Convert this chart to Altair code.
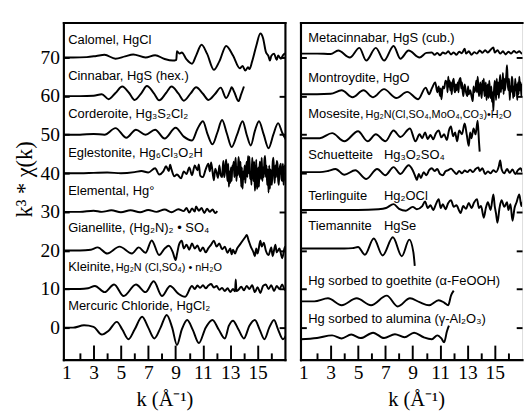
import altair as alt
import pandas as pd

# ---------------- data (k, deviation from the curve's offset) ----------------
CALOMEL = [(0.8,0),(1.5,0),(2.5,0.1),(3.2,0.4),(3.8,0.7),(4.6,-0.3),(5.3,0.3),(5.9,0.8),(6.8,0),(7.5,0.6),
           (8.2,-0.4),(8.8,-0.8),(9.05,-0.6),(9.1,1.6),(9.3,1.0),(9.45,1.3),(9.8,-0.5),(10.2,-1.6),(10.5,0.5),
           (10.9,3.3),(11.3,1.0),(11.8,-3.2),(12.2,-1.0),(12.7,3.0),(13.2,0.5),(13.7,-2.8),(13.9,-2.2),(14.1,-3.4),
           (14.3,-2.5),(14.4,-3.0),(14.6,-1.0),(14.9,3.0),(15.2,6.2),(15.4,5.0),(15.6,1.5),(15.8,0.3),(15.9,-0.8),
           (16.0,0.4),(16.2,1.0),(16.4,-0.6),(16.5,0.5),(16.7,-0.3),(16.9,0.8),(17.2,1.2)]
CINNABAR = [(0.8,0),(2.0,0),(3.0,0.1),(3.6,0.5),(4.1,-0.8),(4.6,0.8),(5.1,2.5),(5.6,0.8),(6.0,-1.0),(6.5,0.8),
            (6.9,2.6),(7.4,0.8),(7.8,-1.1),(8.3,0.8),(8.7,2.5),(9.2,0.7),(9.6,-1.2),(10.1,0.7),(10.5,2.3),(11.0,0.6),
            (11.4,-1.0),(11.9,0.6),(12.3,2.2),(12.7,-0.5),(13.0,1.5),(13.1,2.3),(13.3,1.0),(13.6,-1.3),(13.8,0.5),(14.0,2.5)]
CORDEROITE = [(0.8,0),(2.0,0),(3.0,0.2),(3.8,0.0),(4.6,1.7),(5.4,-0.8),(6.1,1.3),(6.8,0),(7.5,1.3),(8.2,-1.0),
              (9.0,1.8),(9.6,-0.5),(10.2,-1.5),(10.6,1.5),(11.0,3.5),(11.35,0),(11.7,-2.5),(12.05,0.5),(12.4,3.8),
              (12.75,0.3),(13.1,-3.2),(13.5,0),(13.9,3.5),(14.2,0),(14.5,-2.8),(14.8,1.0),(15.1,3.5),(15.45,0),
              (15.8,-3.5),(16.15,0),(16.5,3.0),(16.8,0.5),(17.2,-2.0)]
EGLESTONITE = [(0.8,0),(2,0),(3,0.1),(4,0.2),(5,0),(6,0.3),(6.5,0.6),(7.0,0.2),(7.5,1.3),(7.8,-0.3),(8.1,0.5),
               (8.3,1.8),(8.5,0.6),(8.6,2.2),(8.7,1.0),(8.9,-0.8),(9.1,-0.3),(9.4,-1.3),(9.6,0.5),(9.8,-0.2),
               (10.0,1.5),(10.2,-0.5),(10.4,2.0),(10.6,0.8),(10.7,2.3),(10.8,-0.6),(11.0,-1.0),(11.2,1.0),(11.4,2.5),
               (11.5,0.5),(11.6,2.8),(11.8,-1.8),(11.9,1.2),(12.0,0.2),(12.1,-1.2),(12.2,2.0),(12.3,-0.5),(12.4,-1.0),
               (12.45,1.5),(12.5,3.2),(12.55,-1.0),(12.6,0.0),(12.65,2.0),(12.7,3.5),(12.75,0.5),(12.8,-2.0),
               (12.85,2.5),(12.9,-3.5),(12.95,0.5),(13.0,-2.5),(13.05,1.5),(13.1,-2.0),(13.15,2.0),(13.2,1.0),
               (13.25,3.0),(13.3,-1.0),(13.35,2.0),(13.4,4.0),(13.45,-2.0),(13.5,1.5),(13.55,-0.5),(13.6,4.2),
               (13.65,2.5),(13.7,-1.0),(13.75,3.0),(13.8,-3.5),(13.85,1.5),(13.9,-4.0),(13.95,0.5),(14.0,-1.5),
               (14.05,2.0),(14.1,-2.5),(14.15,1.0),(14.2,3.0),(14.25,-1.0),(14.3,4.5),(14.35,0.0),(14.4,4.3),
               (14.45,-1.5),(14.5,0.5),(14.55,-3.0),(14.6,4.0),(14.65,2.0),(14.7,-2.0),(14.75,3.0),(14.8,-4.5),
               (14.85,-2.0),(14.9,3.5),(14.95,-4.0),(15.0,-3.0),(15.05,1.5),(15.1,-3.5),(15.15,3.0),(15.2,2.0),
               (15.25,-1.5),(15.3,4.0),(15.35,-2.0),(15.4,1.5),(15.45,-1.0),(15.5,3.5),(15.55,4.5),(15.6,-1.0),
               (15.65,2.0),(15.7,-3.0),(15.75,1.0),(15.8,-5.0),(15.85,2.0),(15.9,-4.0),(15.95,1.0),(16.0,-2.0),
               (16.05,-3.0),(16.1,2.5),(16.15,4.0),(16.2,0.5),(16.25,-2.5),(16.3,2.0),(16.35,-1.0),(16.4,3.2),
               (16.45,2.5),(16.5,-1.5),(16.55,-3.0),(16.6,1.0),(16.7,2.5),(16.75,-1.5),(16.8,-2.0),(16.85,2.5),
               (16.9,-3.0),(16.95,1.0),(17.0,2.0),(17.05,-2.0),(17.1,1.5),(17.2,0.5)]
ELEMENTAL = [(0.8,0),(2,0),(3,0.3),(3.6,0),(4.3,0.4),(5,-0.1),(5.7,0.4),(6.4,-0.1),(7.0,0.5),(7.6,0),(8.2,0.6),
             (8.7,-0.1),(9.2,0.7),(9.6,0.2),(9.8,1.0),(10.0,-0.2),(10.2,0.9),(10.4,0.1),(10.5,1.4),(10.7,0.3),
             (10.9,1.0),(11.1,-0.3),(11.3,0.8),(11.5,0.0),(11.7,0.6),(11.9,-0.3),(12.05,0.2)]
GIANELLITE = [(0.8,0),(2,0),(2.8,0.2),(3.3,0.8),(4.0,-0.8),(4.9,1.0),(5.8,-0.8),(6.3,0.8),(6.8,-0.6),(7.25,2.6),
              (7.8,-1.2),(8.2,0.5),(8.5,1.2),(8.8,-0.5),(9.0,-2.5),(9.1,-1.0),(9.25,1.5),(9.45,2.5),(9.6,0.5),
              (9.8,1.5),(10.0,0.2),(10.2,1.8),(10.4,0.5),(10.6,1.3),(10.8,-0.2),(11.0,0.8),(11.2,-0.5),(11.4,0.6),
              (11.6,1.5),(11.8,2.5),(12.0,1.0),(12.2,1.8),(12.4,0.3),(12.6,1.0),(12.8,-0.6),(13.0,0.5),(13.1,-1.0),
              (13.2,0.2),(13.35,-0.8),(13.5,0.5),(13.7,1.5),(13.9,2.5),(14.1,3.5),(14.2,4.0),(14.35,2.5),(14.5,1.0),
              (14.7,-0.5),(14.8,-1.5),(14.9,0.5),(15.0,-0.8),(15.2,2.5),(15.3,1.0),(15.45,2.0),(15.6,0.0),(15.8,-1.2),
              (16.0,0.8),(16.1,-1.5),(16.3,1.5),(16.4,-0.5),(16.6,0.5),(16.8,-2.0),(17.0,1.0),(17.2,-0.5)]
KLEINITE = [(0.8,0),(2,0),(2.6,0.2),(3.1,0.8),(3.8,-0.8),(4.5,1.2),(5.2,-1.8),(6.1,1.2),(6.8,-0.8),(7.4,2.0),
            (8.0,-1.8),(8.6,0.8),(9.2,-1.2),(9.7,-2.0),(10.2,0.8),(10.4,0.0),(10.6,0.9),(10.8,0.3),(11.0,1.0),
            (11.2,0.2),(11.4,0.9),(11.6,1.3),(11.8,0.4),(12.0,0.8),(12.2,-0.2),(12.4,0.3),(12.6,-0.5),(12.8,0.2),
            (13.0,-0.8),(13.2,0.0),(13.35,-0.6),(13.4,2.5),(13.45,-0.5),(13.6,-0.2),(13.8,0.6),(14.0,-0.3),(14.2,0.8),
            (14.4,0.0),(14.6,1.0),(14.8,-0.8),(15.0,0.5),(15.2,-1.0),(15.4,0.8),(15.6,1.2),(15.8,0.0),(16.0,1.0),
            (16.2,-0.5),(16.4,0.8),(16.6,0.0),(16.8,1.2),(17.0,-0.3),(17.2,0.5)]
MERCURIC = [(0.8,0),(1.5,0),(2.3,0.6),(3.0,0.2),(3.6,-1.8),(4.1,-0.8),(4.7,1.5),(5.1,-0.5),(5.55,-3.0),(6.0,-0.5),
            (6.55,2.8),(7.0,0.0),(7.45,-2.8),(7.9,0.0),(8.35,3.3),(8.75,0.0),(9.1,-4.5),(9.45,-0.5),(9.85,2.0),
            (10.25,-0.5),(10.7,-4.0),(11.2,0.0),(11.7,2.0),(12.15,-0.5),(12.6,-2.8),(12.9,0.5),(13.2,1.8),(13.6,-0.5),
            (14.0,-2.8),(14.4,0.5),(14.8,2.0),(15.15,-0.5),(15.5,-3.0),(15.85,0.0),(16.2,2.0),(16.5,-0.5),(16.85,-3.0),
            (17.2,-1.0)]

METACINNABAR = [(0.8,0),(2,0),(3.0,-0.1),(3.55,0.8),(4.4,-1.0),(5.1,1.5),(5.6,-1.8),(6.3,1.5),(6.9,-1.8),(7.6,2.0),
                (8.1,-1.3),(8.7,0.8),(9.5,-1.0),(10.0,0.2),(10.4,0.3),(10.6,-0.3),(10.8,0.2),(11.0,-0.4),(11.2,0.3),
                (11.4,0.0),(11.6,0.6),(11.8,-0.2),(12.0,0.3),(12.2,-0.3),(12.4,0.5),(12.6,0.1),(12.8,1.3),(12.9,0.0),
                (13.1,0.6),(13.3,-0.3),(13.5,0.4),(13.7,0.0),(13.9,0.8),(14.1,0.2),(14.3,0.9),(14.5,0.3),(14.7,1.0),
                (14.9,1.6),(15.0,0.3),(15.2,0.9),(15.4,0.0),(15.6,0.6),(15.8,-0.2),(16.0,0.5),(16.2,0.0),(16.4,0.7),
                (16.6,0.2),(16.8,0.6),(17.0,0.0),(17.2,0.4)]
MONTROYDITE = [(0.8,0),(2,0),(3.0,0.1),(3.8,1.0),(4.6,-0.8),(5.4,1.0),(6.1,-0.8),(6.9,1.3),(7.8,-1.0),(8.6,0.6),
               (9.4,-1.3),(9.95,1.7),(10.2,0.0),(10.4,1.5),(10.65,3.0),(10.8,0.5),(10.9,2.0),(11.0,-0.5),(11.05,1.5),
               (11.1,-1.3),(11.2,2.0),(11.3,1.5),(11.4,3.5),(11.5,3.0),(11.55,0.5),(11.6,4.5),(11.65,2.0),(11.7,3.5),
               (11.75,1.0),(11.8,3.0),(11.85,0.0),(11.9,2.5),(12.0,4.0),(12.05,1.0),(12.1,0.5),(12.15,2.5),(12.2,1.0),
               (12.3,3.0),(12.35,0.5),(12.4,3.5),(12.5,4.2),(12.55,1.5),(12.6,3.0),(12.65,1.0),(12.7,-0.5),(12.8,2.5),
               (12.9,0.5),(13.0,-0.5),(13.05,2.0),(13.1,0.0),(13.2,1.0),(13.3,-0.5),(13.4,-1.8),(13.45,2.0),(13.5,0.5),
               (13.6,1.5),(13.65,3.5),(13.7,0.5),(13.75,4.5),(13.8,2.0),(13.85,-0.5),(13.9,1.5),(13.95,3.0),(14.0,0.5),
               (14.05,-1.0),(14.1,3.5),(14.15,1.0),(14.2,4.0),(14.25,-0.5),(14.3,0.5),(14.35,3.0),(14.4,-1.5),
               (14.45,1.0),(14.5,2.5),(14.55,-1.0),(14.6,3.5),(14.65,0.5),(14.7,-1.0),(14.75,2.0),(14.8,-2.0),
               (14.85,0.5),(14.9,-4.3),(14.95,1.0),(15.0,3.5),(15.05,2.0),(15.1,-1.5),(15.15,4.0),(15.2,0.0),
               (15.25,3.0),(15.3,-1.0),(15.35,2.5),(15.4,5.0),(15.45,0.5),(15.5,3.5),(15.55,1.5),(15.6,5.5),
               (15.65,0.0),(15.7,4.0),(15.75,1.0),(15.8,3.0),(15.85,5.0),(15.9,7.5),(15.95,3.0),(16.0,1.0),(16.05,4.0),
               (16.1,-1.5),(16.15,2.0),(16.2,0.5),(16.25,4.5),(16.3,3.5),(16.35,-1.0),(16.4,2.0),(16.45,-0.5),
               (16.5,4.0),(16.55,1.0),(16.6,2.5),(16.65,-1.5),(16.7,3.0),(16.75,0.0),(16.8,4.5),(16.85,1.0),(16.9,3.0),
               (16.95,-0.5),(17.0,2.5),(17.05,-1.0),(17.1,3.0),(17.2,1.5)]
MOSESITE = [(0.8,0),(2.2,0),(3.1,1.3),(4.0,-0.8),(5.0,1.8),(5.7,-0.8),(6.3,1.0),(7.0,-0.8),(7.6,2.0),(8.1,0.3),
            (8.8,2.5),(9.2,-0.8),(9.5,1.0),(9.7,0.0),(9.9,1.5),(10.1,-0.2),(10.3,0.8),(10.5,-0.3),(10.7,1.3),
            (10.9,2.0),(11.1,0.2),(11.3,1.0),(11.5,-0.5),(11.65,2.0),(11.8,3.0),(11.95,0.5),(12.1,1.5),(12.25,-0.8),
            (12.4,2.0),(12.6,1.0),(12.8,3.8),(12.95,1.0),(13.1,-2.0),(13.2,1.5),(13.3,0.0),(13.45,2.5),(13.6,1.0),
            (13.75,4.5),(13.85,-1.0),(13.9,-3.5)]
SCHUETTEITE = [(0.8,0),(2.2,0),(2.8,0.3),(3.35,0.8),(4.0,-0.7),(4.8,0.5),(5.6,-1.8),(6.4,0.8),(7.0,-0.8),(7.6,1.3),
               (8.1,-0.5),(8.7,1.8),(9.0,0.5),(9.2,-1.2),(9.3,-2.0),(9.45,-0.5),(9.6,-1.5),(9.8,0.0),(10.0,-0.8),
               (10.2,0.5),(10.4,1.0),(10.6,0.3),(10.8,0.8),(11.0,-0.5),(11.2,-0.8),(11.4,0.2),(11.6,0.5),(11.8,0.9),
               (12.0,0.2),(12.2,-0.5),(12.4,0.3),(12.6,-0.3),(12.8,0.4),(13.0,0.0),(13.2,0.6),(13.4,0.0),(13.6,0.8),
               (13.8,1.2),(13.9,0.3),(14.1,1.0),(14.3,-0.5),(14.5,0.2),(14.7,-0.3),(14.9,0.5),(15.1,0.0),(15.3,1.5),
               (15.4,3.0),(15.5,0.8),(15.7,-0.3),(15.9,0.8),(16.1,-0.2),(16.3,0.7),(16.5,-0.5),(16.7,0.5),(16.9,1.0),
               (17.05,0.0),(17.2,0.8)]
TERLINGUITE = [(0.8,0),(3,0),(5,0),(6.5,0.2),(7.05,0.5),(7.6,1.5),(8.0,0.3),(8.5,-0.2),(9.0,0.8),(9.3,0.2),(9.7,1.0),
               (9.9,2.2),(10.1,0.5),(10.3,1.2),(10.5,0.0),(10.7,1.5),(10.9,2.8),(11.05,0.5),(11.2,1.5),(11.4,0.2),
               (11.6,1.8),(11.8,2.5),(12.0,0.8),(12.2,1.2),(12.4,-0.2),(12.5,-0.8),(12.7,1.0),(12.9,0.3),(13.1,1.8),
               (13.3,0.5),(13.5,2.0),(13.7,2.8),(13.85,0.5),(14.0,1.0),(14.2,-2.0),(14.35,0.5),(14.5,2.0),(14.7,0.0),
               (14.9,4.0),(15.0,1.0),(15.1,-1.0),(15.2,-3.3),(15.35,0.5),(15.5,2.5),(15.7,0.8),(15.9,2.0),(16.0,0.0),
               (16.15,1.5),(16.3,-2.8),(16.45,0.5),(16.6,2.0),(16.8,4.0),(16.95,1.0),(17.1,2.5),(17.2,0.5)]
TIEMANNITE = [(0.8,0),(2,0),(3,0),(4,0),(4.6,0.1),(5.0,0.4),(5.5,-1.6),(6.15,2.6),(6.8,-1.8),(7.55,2.9),(8.2,-2.0),
              (8.75,2.3),(9.05,-1.0),(9.15,-4.5)]
GOETHITE = [(0.8,0),(1.8,0),(2.8,0.8),(3.8,-1.0),(4.9,0.8),(5.95,-1.0),(7.1,1.5),(7.9,-1.3),(8.8,0.8),(9.5,-0.2),
            (10.2,-1.0),(10.9,0.3),(11.3,-0.3),(11.6,-1.0),(11.8,1.5),(12.0,2.8)]
ALUMINA = [(0.8,0),(2.0,0.3),(3.1,1.0),(3.8,0.2),(4.5,1.2),(5.2,0.3),(6.1,1.7),(6.9,0.3),(7.7,1.3),(8.4,0.5),
           (9.1,1.7),(9.8,0.5),(10.4,0.0),(10.8,1.0),(11.1,0.2),(11.3,-0.8),(11.5,2.0),(11.65,3.5)]

LEFT_CURVES = [CALOMEL, CINNABAR, CORDEROITE, EGLESTONITE, ELEMENTAL, GIANELLITE, KLEINITE, MERCURIC]
LEFT_OFFSETS = [70, 60, 50, 40, 30, 20, 10, 0]
LEFT_LABELS = ["Calomel, HgCl", "Cinnabar, HgS (hex.)", "Corderoite, Hg₃S₂Cl₂", "Eglestonite, Hg₆Cl₃O₂H",
               "Elemental, Hg°", "Gianellite, (Hg₂N)₂ • SO₄", "Kleinite,", "Mercuric Chloride, HgCl₂"]
LEFT_LABEL_Y = [73.5, 64.2, 54.2, 44.1, 34.3, 24.9, 14.6, 4.5]
LEFT_EXTRA = ["Hg₂N (Cl,SO₄) • nH₂O"]
LEFT_EXTRA_K = [4.62]
LEFT_EXTRA_Y = [14.6]
LEFT_EXTRA_SIZE = [11.2]

RIGHT_CURVES = [METACINNABAR, MONTROYDITE, MOSESITE, SCHUETTEITE, TERLINGUITE, TIEMANNITE, GOETHITE, ALUMINA]
RIGHT_OFFSETS = [71.0, 60.5, 49.1, 40.3, 30.5, 20.5, 6.8, -3.0]
RIGHT_LABELS = ["Metacinnabar, HgS (cub.)", "Montroydite, HgO", "Mosesite,", "Schuetteite", "Terlinguite",
                "Tiemannite", "Hg sorbed to goethite (α-FeOOH)", "Hg sorbed to alumina (γ-Al₂O₃)"]
RIGHT_LABEL_Y = [74.0, 63.7, 54.2, 43.6, 33.0, 25.2, 11.0, 1.2]
RIGHT_EXTRA = ["Hg₂N(Cl,SO₄,MoO₄,CO₃)•H₂O", "Hg₃O₂SO₄", "Hg₂OCl", "HgSe"]
RIGHT_EXTRA_K = [5.55, 6.9, 6.9, 6.9]
RIGHT_EXTRA_Y = [54.2, 43.6, 33.0, 25.2]
RIGHT_EXTRA_SIZE = [11.2, 13.3, 13.3, 13.3]

X_LABELS = [1, 3, 5, 7, 9, 11, 13, 15]
X_MAJOR = [3, 5, 7, 9, 11, 13, 15]
X_MINOR = [2, 4, 6, 8, 10, 12, 14, 16]
Y_TICKS = [0, 10, 20, 30, 40, 50, 60, 70]

# ---------------- layout constants ----------------
W, H = 228, 347
XDOM = [0.79, 17.0]
YDOM = [-8.31, 79.07]
SERIF = "Liberation Serif"
SANS = "Liberation Sans"
LABEL_SIZE = 13.3
BORDER = dict(domainColor="black", domainWidth=2.2, domainCap="square")


def curve_frame(curves, offsets):
    rows = []
    for ci, (pts, off) in enumerate(zip(curves, offsets)):
        for i, (k, d) in enumerate(pts):
            rows.append({"c": ci, "i": i, "k": k, "v": off + d})
    return pd.DataFrame(rows)


def panel(curves, offsets, labels, label_y, label_k, extra, extra_k, extra_y, extra_size, left, title_x):
    xs = alt.Scale(domain=XDOM, nice=False, zero=False)
    ys = alt.Scale(domain=YDOM, nice=False, zero=False)

    bottom_axis = alt.Axis(values=X_LABELS, ticks=False, domain=True, grid=False, labelFont=SERIF,
                           labelFontSize=20, labelColor="black", labelPadding=3, title="k (Å⁻¹)",
                           titleFont=SERIF, titleFontSize=21, titleFontWeight="normal", titleColor="black",
                           titlePadding=7, titleX=title_x, labelFlush=False, **BORDER)
    if left:
        y_axis = alt.Axis(values=Y_TICKS, ticks=False, domain=False, grid=False, labelFont=SERIF,
                          labelFontSize=20, labelColor="black", labelPadding=4, title="k³ * χ(k)",
                          titleFont=SERIF, titleFontSize=23, titleFontWeight="normal", titleColor="black",
                          titlePadding=4, titleY=161, labelFlush=False)
    else:
        y_axis = None

    lines = alt.Chart(curve_frame(curves, offsets)).mark_line(
        color="black", strokeWidth=2.0, interpolate="monotone", clip=True
    ).encode(
        x=alt.X("k:Q", scale=xs, axis=bottom_axis),
        y=alt.Y("v:Q", scale=ys, axis=y_axis),
        detail="c:N",
        order="i:Q",
    )

    dummy = pd.DataFrame({"k": [X_MAJOR[0]], "v": [Y_TICKS[0]]})
    # major bottom ticks (pointing inward) + left border with inward ticks
    tick_a = alt.Chart(dummy).mark_point(opacity=0).encode(
        x=alt.X("k:Q", scale=xs, axis=alt.Axis(orient="top", offset=-H, values=X_MAJOR, tickSize=15,
                                               tickWidth=2, tickColor="black", labels=False, domain=False,
                                               grid=False, title=None)),
        y=alt.Y("v:Q", scale=ys, axis=alt.Axis(orient="right", offset=-W, values=Y_TICKS, tickSize=6,
                                               tickWidth=2, tickColor="black", labels=False, domain=True,
                                               grid=False, title=None, **BORDER)),
    )
    # minor bottom ticks + right border (left panel only) with inward ticks
    tick_b = alt.Chart(dummy).mark_point(opacity=0).encode(
        x=alt.X("k:Q", scale=xs, axis=alt.Axis(orient="top", offset=-H, values=X_MINOR, tickSize=7,
                                               tickWidth=2, tickColor="black", labels=False, domain=False,
                                               grid=False, title=None)),
        y=alt.Y("v:Q", scale=ys, axis=alt.Axis(orient="left", offset=-W, values=Y_TICKS, tickSize=6,
                                               tickWidth=2, tickColor="black", labels=False, domain=left,
                                               grid=False, title=None, **BORDER)),
    )

    # top border
    top_axis = alt.Axis(orient="top", ticks=False, labels=False, domain=True, grid=False, title=None, **BORDER)
    lab_df = pd.DataFrame({"t": labels, "k": [label_k] * len(labels), "v": label_y})
    labs = alt.Chart(lab_df).mark_text(align="left", baseline="alphabetic", font=SANS, fontSize=LABEL_SIZE,
                                       color="black").encode(
        x=alt.X("k:Q", scale=xs, axis=top_axis), y=alt.Y("v:Q", scale=ys, axis=None), text="t:N")

    ex_df = pd.DataFrame({"t": extra, "k": extra_k, "v": extra_y, "s": extra_size})
    exl = alt.Chart(ex_df).mark_text(align="left", baseline="alphabetic", font=SANS, color="black").encode(
        x=alt.X("k:Q", scale=xs, axis=None), y=alt.Y("v:Q", scale=ys, axis=None), text="t:N",
        size=alt.Size("s:Q", scale=None, legend=None))

    return alt.layer(lines, tick_a, tick_b, labs, exl).resolve_axis(x="independent", y="independent").properties(
        width=W, height=H)


left_panel = panel(LEFT_CURVES, LEFT_OFFSETS, LEFT_LABELS, LEFT_LABEL_Y, 1.14,
                   LEFT_EXTRA, LEFT_EXTRA_K, LEFT_EXTRA_Y, LEFT_EXTRA_SIZE, True, 104)
right_panel = panel(RIGHT_CURVES, RIGHT_OFFSETS, RIGHT_LABELS, RIGHT_LABEL_Y, 1.36,
                    RIGHT_EXTRA, RIGHT_EXTRA_K, RIGHT_EXTRA_Y, RIGHT_EXTRA_SIZE, False, 119)

chart = alt.hconcat(left_panel, right_panel, spacing=11).properties(
    padding={"left": 5, "top": 8, "right": 0, "bottom": 0}
).configure_view(stroke=None).configure(background="white")

chart.save("out.html", embed_options={"renderer": "svg", "actions": False})
